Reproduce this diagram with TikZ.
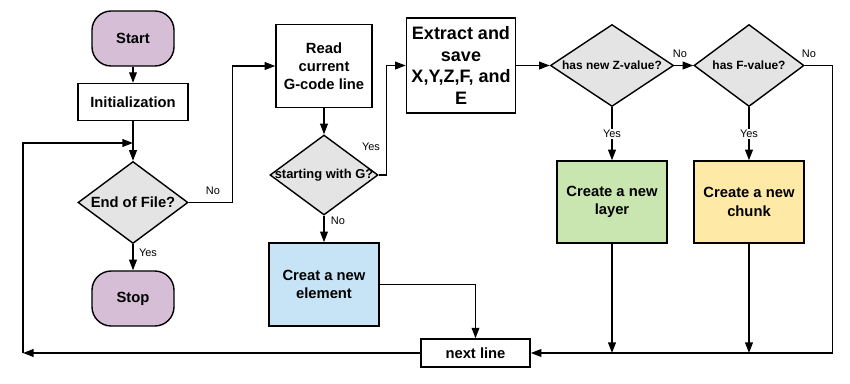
\documentclass[tikz,border=0pt]{standalone}
\usepackage{fontspec}
\setmainfont{Liberation Sans}
\usetikzlibrary{shapes,arrows.meta}
\definecolor{termcol}{HTML}{D5BED6}
\definecolor{askcol}{HTML}{E4E4E4}
\definecolor{elemcol}{HTML}{C6E4F6}
\definecolor{layercol}{HTML}{C9E6B0}
\definecolor{chunkcol}{HTML}{FEEAA6}
\newcommand{\linew}{1pt}
\newcommand{\asktext}[1]{\makebox[0pt]{#1}}

\begin{document}
\begin{tikzpicture}[x=0.025cm, y=-0.025cm]
                %\draw[help lines] (0,0) grid[step=50] (850,383);
                \useasboundingbox (0,0) rectangle (850,383);
                \tikzset{
                    box/.style = {draw, line width = \linew, align = center, inner sep = 2pt,
                        font = \fontsize{10.5}{13}\selectfont\bfseries},
                    term/.style = {box, rounded corners = 0.48cm,
                        fill = termcol, minimum width = 2.05cm, minimum height = 1.375cm},
                    ask/.style = {draw, line width = \linew, shape = diamond, inner sep = 0pt,
                        fill = askcol, minimum height = 2.05cm},
                    lbl/.style = {inner sep = 1pt, font = \fontsize{7.8}{9}\selectfont},
                    flow/.style = {draw, line width = \linew, -{Triangle[length = 7.5pt, width = 5.5pt]}}
                }

                % left column
                \node[term] (start) at (133, 38.5) {Start};
                \node[box, minimum width = 2.75cm, minimum height = 0.925cm] (init) at (133, 102) {Initialization};
                \node[ask, minimum width = 2.75cm, font = \fontsize{10.5}{13}\selectfont\bfseries] (eof) at (133, 202.5) {\asktext{End of File?}};
                \node[term] (stop) at (133, 298.5) {Stop};

                % middle column
                \node[box, minimum width = 2.4cm, minimum height = 2.08cm] (read) at (324, 66) {Read\\current\\G-code line};
                \node[ask, minimum width = 2.7cm, minimum height = 2cm, font = \fontsize{9.2}{11}\selectfont\bfseries] (isg) at (324, 175) {\asktext{starting with G?}};
                \node[box, fill = elemcol, minimum width = 2.75cm, minimum height = 2.08cm] (elem) at (324, 284.5) {Creat a new\\element};
                \node[box, minimum width = 2.73cm, minimum height = 2.38cm, font = \fontsize{12.8}{15.6}\selectfont\bfseries] (extract) at (461, 65.5) {Extract and\\save\\X,Y,Z,F, and\\E};
                \node[box, minimum width = 2.73cm, minimum height = 0.7cm] (next) at (475.5, 353) {next line};

                % right columns
                \begin{scope}[font = \fontsize{8.5}{10}\selectfont\bfseries]
                    \node[ask, minimum width = 3.08cm] (zval) at (612, 65.5) {\asktext{has new Z-value?}};
                    \node[ask, minimum width = 2.75cm] (fval) at (749, 65.5) {\asktext{has F-value?}};
                \end{scope}
                \node[box, fill = layercol, minimum width = 2.75cm, minimum height = 2.05cm] (layer) at (612, 202) {Create a new\\layer};
                \node[box, fill = chunkcol, minimum width = 2.75cm, minimum height = 2.05cm] (chunk) at (749, 202) {Create a new\\chunk};

                % loop back to the file check
                \coordinate (lc) at (23, 353);
                \coordinate (lt) at (23, 143);
                \coordinate (lm) at (133, 143);

                \draw[flow] (start) -- (init);
                \draw[flow] (init) -- (eof);
                \draw[flow] (next.west) -- (lc);
                \draw[flow] (lc) -- (lt) -- (lm);
                \draw[flow] (eof) -- (stop);
                \node[lbl] (eofyes) at (148, 253) {Yes};
                \draw[flow] (eof.east) -- ++(44, 0) |- (read.west);
                \node[lbl] (eofno) at (213, 191) {No};

                \draw[flow] (read) -- (isg);
                \draw[flow] (isg.east) -- ++(8, 0) |- (extract.west);
                \node[lbl] (isgyes) at (371, 147) {Yes};
                \draw[flow] (isg) -- (elem);
                \node[lbl] (isgno) at (338, 221) {No};
                \draw[flow] (elem.east) -| (next.north);

                \draw[flow] (extract) -- (zval);
                \draw[flow] (zval) -- (fval);
                \node[lbl] (zno) at (680, 54) {No};
                \draw[flow] (fval.east) -- ++(28, 0) |- (next.east);
                \node[lbl] (fno) at (809, 54) {No};

                \draw[flow] (zval) -- node[lbl, fill = white] (zyes) {Yes} (layer);
                \draw[flow] (fval) -- node[lbl, fill = white] (fyes) {Yes} (chunk);
                \draw[flow] (layer) -- (layer.south |- next);
                \draw[flow] (chunk) -- (chunk.south |- next);

        \end{tikzpicture}
\end{document}
